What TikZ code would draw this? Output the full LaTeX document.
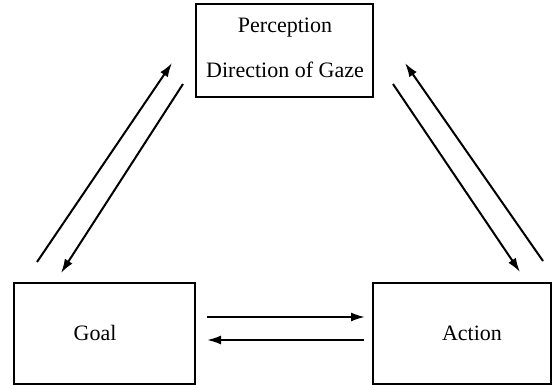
\documentclass[tikz,border=0pt]{standalone}
\usepackage{fontspec}
\setmainfont{Liberation Serif}
\usetikzlibrary{arrows.meta}
\begin{document}
\begin{tikzpicture}[x=1pt,y=-1pt,
  box/.style={draw,line width=1.4pt,rectangle,inner sep=0pt},
  lbl/.style={font=\fontsize{22}{26}\selectfont,inner sep=0pt},
  conn/.style={line width=2pt,-{Latex[length=14pt,width=9pt]}}]
\useasboundingbox (0,0) rectangle (552,385);
% boxes
\node[box,minimum width=177pt,minimum height=93pt] (perc) at (284.5,50.5) {};
\node[box,minimum width=181pt,minimum height=101pt] (goal) at (104.5,333.5) {};
\node[box,minimum width=178pt,minimum height=101pt] (action) at (462,333.5) {};
% texts
\node[lbl] (ptxt) at (285,28) {Perception};
\node[lbl] (dtxt) at (285,70) {Direction of Gaze};
\node[lbl] (gtxt) at (95,333) {Goal};
\node[lbl] (atxt) at (472,333) {Action};
% connector end points
\coordinate (lu0) at (37,262);  \coordinate (lu1) at (172,63);
\coordinate (ld0) at (183,84);  \coordinate (ld1) at (61,273);
\coordinate (ru0) at (543,261); \coordinate (ru1) at (405,63);
\coordinate (rd0) at (393,84);  \coordinate (rd1) at (520,272);
\coordinate (h10) at (207,317); \coordinate (h11) at (365,317);
\coordinate (h20) at (364,340); \coordinate (h21) at (207,340);
% connectors
\draw[conn] (lu0) -- (lu1);
\draw[conn] (ld0) -- (ld1);
\draw[conn] (ru0) -- (ru1);
\draw[conn] (rd0) -- (rd1);
\draw[conn] (h10) -- (h11);
\draw[conn] (h20) -- (h21);
\end{tikzpicture}
\end{document}
